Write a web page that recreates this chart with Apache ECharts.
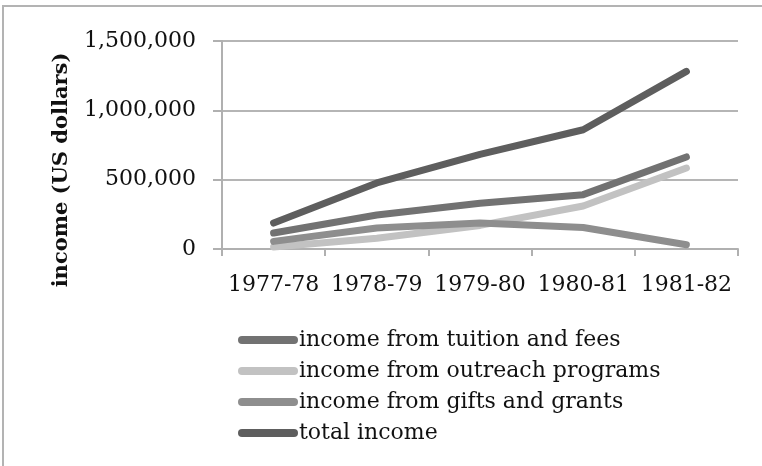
<!DOCTYPE html>
<html>
<head>
<meta charset="utf-8">
<script src="https://cdn.jsdelivr.net/npm/echarts@6/dist/echarts.min.js"></script>
<style>
  html, body { margin: 0; padding: 0; background: #fff; }
  #chart { width: 762px; height: 466px; }
</style>
</head>
<body>
<div id="chart"></div>
<script>
const years = ['1977-78', '1978-79', '1979-80', '1980-81', '1981-82'];
const tuition = [115000, 245000, 330000, 392000, 664000];
const outreach = [15000, 78000, 170000, 310000, 584000];
const gifts = [55000, 152000, 188000, 155000, 31000];
const total = [187000, 476000, 682000, 860000, 1281000];
const yTicks = [0, 500000, 1000000, 1500000];
const yTitle = 'income (US dollars)';

const serif = 'DejaVu Serif';
const pill = 'path://M4,0 H56 A4,4 0 0 1 56,8 H4 A4,4 0 0 1 4,0 Z';

function line(name, data, color) {
  return {
    name: name,
    type: 'line',
    data: data,
    symbol: 'none',
    color: color,
    lineStyle: { width: 7, color: color, cap: 'round', join: 'round' },
  };
}

const chart = echarts.init(document.getElementById('chart'));
chart.setOption({
  animation: false,
  textStyle: { fontFamily: serif },
  graphic: [{
    type: 'rect',
    shape: { x: 3, y: 6, width: 800, height: 500 },
    style: { fill: 'none', stroke: '#b3b3b3', lineWidth: 2 },
  }, {
    // axis title sits lower than the plot centre in the original
    type: 'text',
    x: 62,
    y: 170,
    rotation: Math.PI / 2,
    style: {
      text: yTitle, fontFamily: serif, fontSize: 21, fontWeight: 'bold',
      fill: '#111', align: 'center', verticalAlign: 'middle',
    },
  }],
  grid: { left: 222, right: 24, top: 41, bottom: 217 },
  legend: {
    orient: 'vertical',
    left: 238,
    top: 329,
    padding: 0,
    itemWidth: 60,
    itemHeight: 8,
    itemGap: 9,
    icon: pill,
    textStyle: { fontFamily: serif, fontSize: 22, lineHeight: 22, color: '#111', padding: [0, 0, 0, -4] },
    data: ['income from tuition and fees', 'income from outreach programs',
      'income from gifts and grants', 'total income'],
  },
  xAxis: {
    type: 'category',
    data: years,
    boundaryGap: true,
    axisLine: { lineStyle: { color: '#b0b0b0', width: 2 } },
    axisTick: { show: true, length: 7, lineStyle: { color: '#b0b0b0', width: 2 } },
    axisLabel: { fontFamily: serif, fontSize: 22, color: '#111', margin: 25, interval: 0 },
  },
  yAxis: {
    type: 'value',
    min: yTicks[0],
    max: yTicks[yTicks.length - 1],
    interval: 500000,
    axisLine: { show: true, lineStyle: { color: '#b0b0b0', width: 2 } },
    axisTick: { show: true, length: 9, lineStyle: { color: '#b0b0b0', width: 2 } },
    splitLine: { lineStyle: { color: '#b5b5b5', width: 2 } },
    axisLabel: {
      fontFamily: serif, fontSize: 22, color: '#111', margin: 26, padding: [8, 0, 0, 0],
      formatter: (v) => v.toLocaleString('en-US'),
    },
  },
  series: [
    line('income from tuition and fees', tuition, '#727272'),
    line('income from outreach programs', outreach, '#c2c2c2'),
    line('income from gifts and grants', gifts, '#8e8e8e'),
    line('total income', total, '#5e5e5e'),
  ],
});
</script>
</body>
</html>
